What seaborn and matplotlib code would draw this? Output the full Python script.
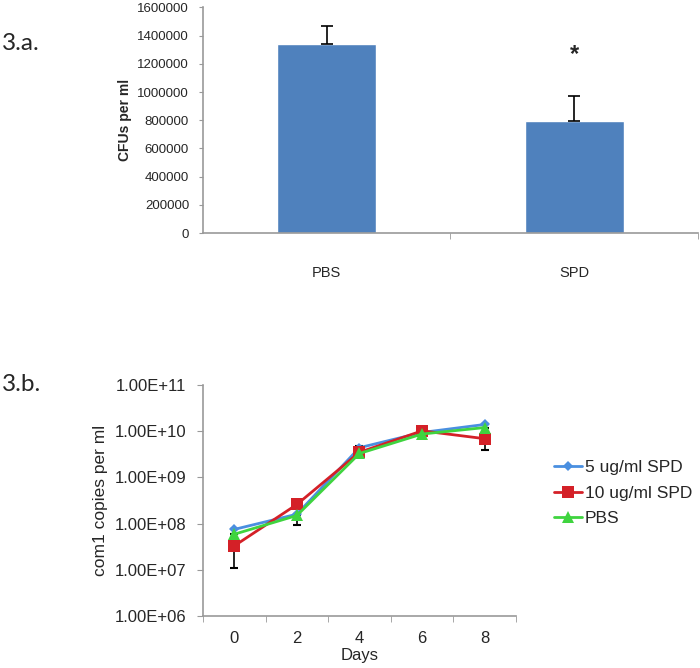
import numpy as np
import pandas as pd
import matplotlib
matplotlib.use("Agg")
import matplotlib.pyplot as plt
import seaborn as sns
from matplotlib.ticker import FixedLocator, FuncFormatter, NullFormatter

sns.set_style("white")
plt.rcParams['font.family'] = ['Liberation Sans', 'DejaVu Sans']

# --- panel a data ---
groups = ["PBS", "SPD"]
cfu_mean = [1343000, 795000]
cfu_err = [122000, 175000]

# --- panel b data ---
days = ["0", "2", "4", "6", "8"]
series_names = ["5 ug/ml SPD", "10 ug/ml SPD", "PBS"]
spd5 = [7.5e7, 1.6e8, 4.4e9, 9.4e9, 1.4e10]
spd10 = [3.3e7, 2.6e8, 3.5e9, 1.02e10, 6.9e9]
pbs = [5.9e7, 1.5e8, 3.3e9, 8.7e9, 1.2e10]
# one-sided error bars as visible in the figure (lower, upper)
spd10_err_lo = [2.2e7, 0, 0, 0, 3.0e9]
pbs_err_lo = [0, 5.8e7, 0, 0, 0]
spd5_err_hi = [0, 0, 0.4e9, 0, 0]

colors = {"5 ug/ml SPD": "#4a8fe0", "10 ug/ml SPD": "#d42027", "PBS": "#3fd43f"}
markers = {"5 ug/ml SPD": "D", "10 ug/ml SPD": "s", "PBS": "^"}
msizes = {"5 ug/ml SPD": 5, "10 ug/ml SPD": 8, "PBS": 8}

fig = plt.figure(figsize=(7.0, 6.68), dpi=100)
axis_gray = "#999999"

# ---------------- panel a ----------------
ax1 = fig.add_axes([0.29, 0.651, 0.707, 0.338])
df_a = pd.DataFrame({"group": groups, "cfu": cfu_mean})
sns.barplot(data=df_a, x="group", y="cfu", color="#4f81bd", width=0.4,
            saturation=1, errorbar=None, ax=ax1)
ax1.errorbar(range(len(groups)), cfu_mean, yerr=[[0] * len(groups), cfu_err],
             fmt="none", ecolor="black", elinewidth=1.2, capsize=4, capthick=1.2)
ax1.set_xlim(-0.5, 1.5)
ax1.set_ylim(0, 1600000)
ax1.set_yticks(np.arange(0, 1600001, 200000))
ax1.yaxis.set_major_formatter(FuncFormatter(lambda v, p: f"{int(v)}"))
ax1.set_xlabel("")
ax1.set_ylabel("CFUs per ml", fontsize=10, fontweight="bold", labelpad=4)
ax1.tick_params(axis="y", labelsize=9.5, length=3, color=axis_gray, pad=7, left=True)
ax1.tick_params(axis="x", which="major", labelsize=10.5, length=0, pad=24)
ax1.xaxis.set_minor_locator(FixedLocator([0.5, 1.5]))
ax1.tick_params(axis="x", which="minor", length=4, color=axis_gray, bottom=True)
ax1.text(1, 1265000, "*", ha="center", va="center", fontsize=17, fontweight="bold")
for s in ["top", "right"]:
    ax1.spines[s].set_visible(False)
for s in ["left", "bottom"]:
    ax1.spines[s].set_color(axis_gray)
    ax1.spines[s].set_linewidth(1.2)
fig.text(0.003, 0.935, "3.a.", fontsize=17.5, family=["Lato", "DejaVu Sans"], va="center")

# ---------------- panel b ----------------
ax2 = fig.add_axes([0.29, 0.0778, 0.447, 0.3458])
pos = list(range(len(days)))
df_b = pd.DataFrame({
    "pos": pos * 3,
    "copies": spd5 + spd10 + pbs,
    "treatment": [series_names[0]] * 5 + [series_names[1]] * 5 + [series_names[2]] * 5,
})
ax2.errorbar(pos, spd10, yerr=[spd10_err_lo, [0] * 5], fmt="none", ecolor="black",
             elinewidth=1.2, capsize=3, capthick=1.5, zorder=1)
ax2.errorbar(pos, pbs, yerr=[pbs_err_lo, [0] * 5], fmt="none", ecolor="black",
             elinewidth=1.2, capsize=3, capthick=1.5, zorder=1)
ax2.errorbar(pos, spd5, yerr=[[0] * 5, spd5_err_hi], fmt="none", ecolor="black",
             elinewidth=1.2, capsize=3, capthick=1.5, zorder=1)
for name in series_names:
    sub = df_b[df_b["treatment"] == name]
    sns.lineplot(data=sub, x="pos", y="copies", color=colors[name], marker=markers[name],
                 markersize=msizes[name], markeredgewidth=0, linewidth=2,
                 label=name, ax=ax2, zorder=3)
ax2.set_yscale("log")
ax2.set_ylim(1e6, 1e11)
ax2.set_xlim(-0.5, 4.5)
ax2.yaxis.set_major_locator(FixedLocator([10.0 ** k for k in range(6, 12)]))
ax2.yaxis.set_major_formatter(FuncFormatter(lambda v, p: f"1.00E+{int(round(np.log10(v))):02d}"))
ax2.yaxis.set_minor_formatter(NullFormatter())
ax2.minorticks_off()
ax2.set_xticks(pos)
ax2.set_xticklabels(days)
ax2.xaxis.set_minor_locator(FixedLocator([-0.5, 0.5, 1.5, 2.5, 3.5, 4.5]))
ax2.tick_params(axis="x", which="major", length=0, labelsize=12, pad=11)
ax2.tick_params(axis="x", which="minor", length=4, color=axis_gray, bottom=True)
ax2.tick_params(axis="y", labelsize=12, length=4, color=axis_gray, pad=8, left=True)
ax2.set_xlabel("Days", fontsize=12, labelpad=1)
ax2.set_ylabel("com1 copies per ml", fontsize=12.5, labelpad=5)
for s in ["top", "right"]:
    ax2.spines[s].set_visible(False)
for s in ["left", "bottom"]:
    ax2.spines[s].set_color(axis_gray)
    ax2.spines[s].set_linewidth(1.2)
ax2.legend(loc="center left", bbox_to_anchor=(1.1, 0.532), frameon=False,
           fontsize=12.5, handlelength=1.6, handletextpad=0.15, labelspacing=0.6,
           borderaxespad=0)
fig.text(0.003, 0.425, "3.b.", fontsize=17.5, family=["Lato", "DejaVu Sans"], va="center")

fig.savefig("out.png", dpi=100)
